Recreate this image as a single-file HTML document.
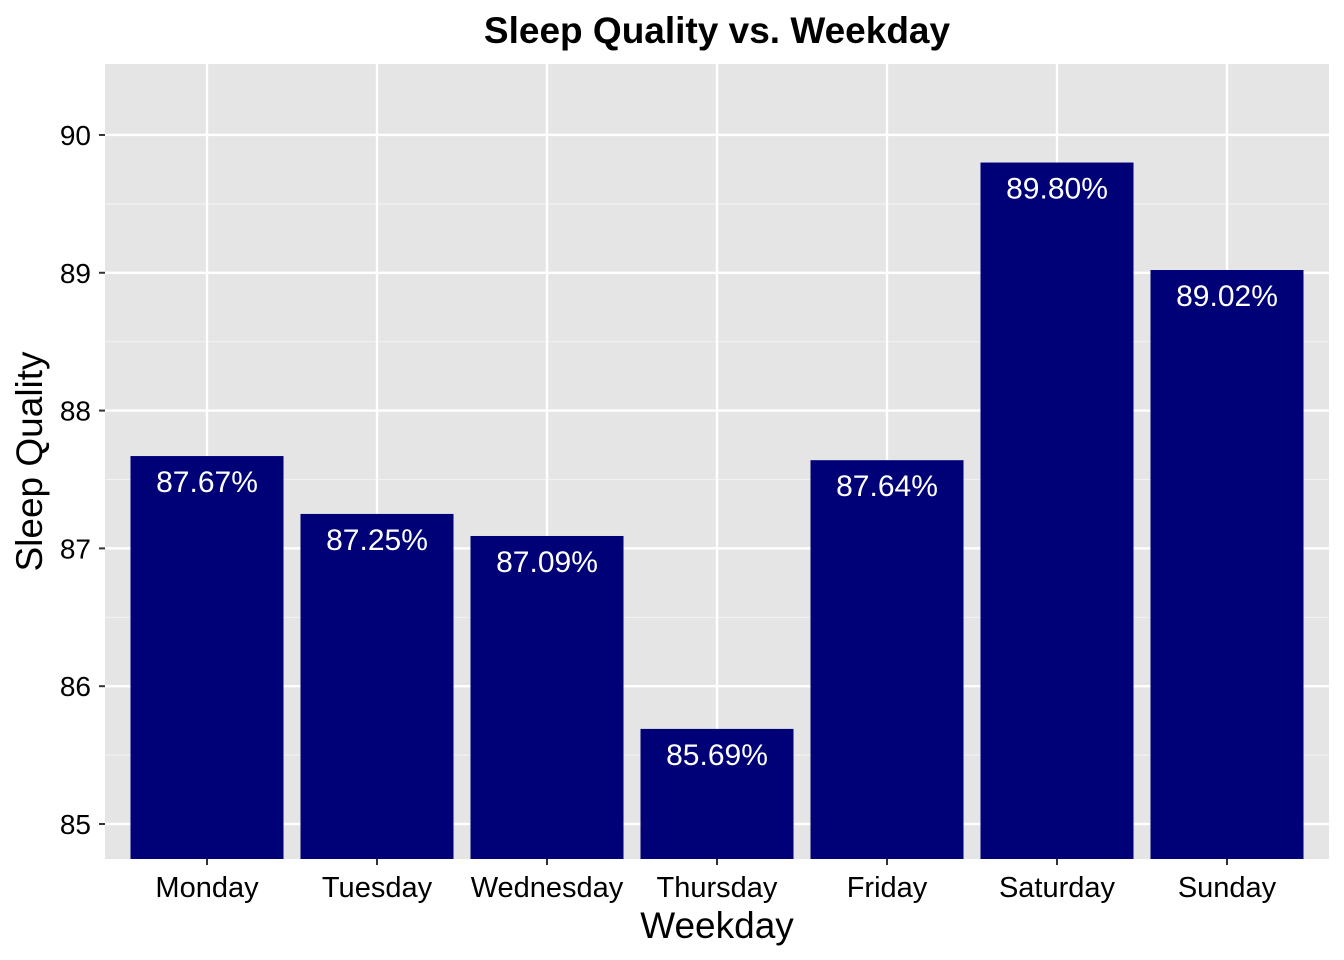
<!DOCTYPE html>
<html><head><meta charset="utf-8"><style>
body{margin:0;background:#fff;}
svg{display:block;font-family:"Liberation Sans",Arial,sans-serif;}
</style></head><body>
<svg id="chart" width="1344" height="960"></svg>
<script>
const categories=["Monday","Tuesday","Wednesday","Thursday","Friday","Saturday","Sunday"];
const values=[87.67,87.25,87.09,85.69,87.64,89.80,89.02];
const valueLabels=["87.67%","87.25%","87.09%","85.69%","87.64%","89.80%","89.02%"];
const yTicks=[85,86,87,88,89,90];
const yMinor=[85.5,86.5,87.5,88.5,89.5];

const NS="http://www.w3.org/2000/svg";
const svg=document.getElementById('chart');
const L=105,R=1329,T=64,B=859;
const yMin=84.746,yMax=90.515;
const y=v=>B-(v-yMin)/(yMax-yMin)*(B-T);
const step=(R-L)/(categories.length-1+1.2);
const x=i=>L+step*(i+0.6);
const bw=step*0.9;
function el(tag,attrs,parent){const e=document.createElementNS(NS,tag);for(const k in attrs)e.setAttribute(k,attrs[k]);(parent||svg).appendChild(e);return e;}

const panel=el('rect',{x:L,y:T,width:R-L,height:B-T,fill:'#e5e5e5'});



yMinor.forEach(v=>{const g=el('line',{x1:L,x2:R,y1:y(v),y2:y(v),stroke:'#f2f2f2','stroke-width':1.2});

});
yTicks.forEach(v=>{const g=el('line',{x1:L,x2:R,y1:y(v),y2:y(v),stroke:'#fff','stroke-width':2.4});


const t=el('line',{x1:99,x2:L,y1:y(v),y2:y(v),stroke:'#333','stroke-width':2});


const lb=el('text',{x:91,y:y(v)+10,'text-anchor':'end','font-size':28,fill:'#000'});
lb.textContent=v;

});
categories.forEach((c,i)=>{const g=el('line',{x1:x(i),x2:x(i),y1:T,y2:B,stroke:'#fff','stroke-width':2.4});

});

categories.forEach((c,i)=>{
const top=y(values[i]);
const b=el('rect',{x:x(i)-bw/2,y:top,width:bw,height:B-top,fill:'#000077'});


const vl=el('text',{x:x(i),y:top+36,'text-anchor':'middle','font-size':30,fill:'#fff'});
vl.textContent=valueLabels[i];


const t=el('line',{x1:x(i),x2:x(i),y1:B,y2:B+6,stroke:'#333','stroke-width':2});


const xl=el('text',{x:x(i),y:897,'text-anchor':'middle','font-size':29,fill:'#000'});
xl.textContent=c;


});

const xt=el('text',{x:(L+R)/2,y:938,'text-anchor':'middle','font-size':37,fill:'#000'});
xt.textContent='Weekday';


const yt=el('text',{x:0,y:0,'text-anchor':'middle','font-size':37,fill:'#000',transform:'translate(42,'+((T+B)/2)+') rotate(-90)'});
yt.textContent='Sleep Quality';


const tt=el('text',{x:(L+R)/2,y:43,'text-anchor':'middle','font-size':37,'font-weight':'bold',fill:'#000'});
tt.textContent='Sleep Quality vs. Weekday';


</script>
</body></html>
